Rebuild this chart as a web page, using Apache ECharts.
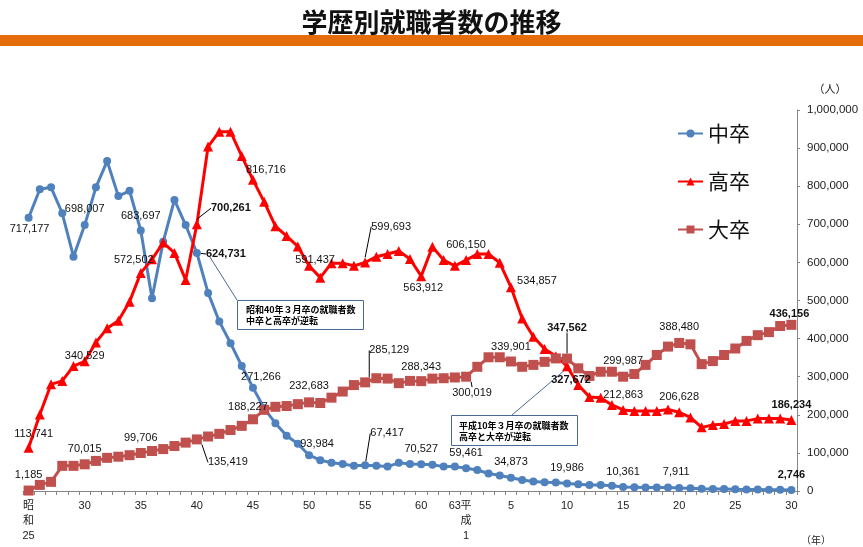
<!DOCTYPE html>
<html><head><meta charset="utf-8">
<script src="https://cdn.jsdelivr.net/npm/echarts@6/dist/echarts.min.js"></script>
<style>html,body{margin:0;padding:0;background:#fff}#c{width:863px;height:547px}</style>
</head><body><div id="c"></div>
<script>
// Years 昭和25 (1950) .. 平成30 (2018)
const categories = [];
for (let y = 25; y <= 63; y++) categories.push('昭和' + y);
for (let y = 1; y <= 30; y++) categories.push('平成' + y);

const tickLabels = {
  '昭和25': '昭\n和\n25', '昭和30': '30', '昭和35': '35', '昭和40': '40', '昭和45': '45',
  '昭和50': '50', '昭和55': '55', '昭和60': '60', '昭和63': '63', '平成1': '平\n成\n1',
  '平成5': '5', '平成10': '10', '平成15': '15', '平成20': '20', '平成25': '25', '平成30': '30'
};

const chusotsu = [717177,792000,797000,729000,615000,698007,797000,866000,774000,788000,
  683697,506000,654000,764000,698000,624731,520000,445000,388000,328000,
  271266,217000,178000,145000,124000,93984,81000,74000,71000,66000,
  67417,66000,64000,74000,71000,70527,69000,64000,64000,59461,
  55000,46000,41000,34873,29000,25000,23000,22000,19986,17500,
  16000,15500,14000,10361,10000,9000,9000,9000,7911,7000,
  6000,5500,5000,4500,4200,3900,3500,3100,2746];

const kousotsu = [113741,201000,280000,289000,328000,340529,390000,427000,447000,497000,
  572502,608000,652000,625000,554000,700261,904000,943000,943000,879000,
  816716,759000,695000,669000,642000,591437,560000,598000,598000,591000,
  599693,615000,622000,630000,609000,563912,641000,606000,591000,606150,
  622000,622000,599000,534857,453000,405000,373000,354000,327672,278000,
  247000,245000,226000,212863,210000,210000,210000,214000,206628,193000,
  167000,173000,176000,184000,184000,190000,190000,190000,186234];

const daisotsu = [1185,16000,24000,66000,66000,70015,79000,87000,90000,94000,
  99706,105000,110000,118000,127000,135419,143000,150000,160000,171000,
  188227,213000,221000,223000,228000,232683,231000,245000,261000,278000,
  285129,296000,295000,283000,289000,288343,295000,296000,298000,300019,
  326000,351000,351000,339901,326000,331000,339000,348000,347562,322000,
  302000,313000,313000,299987,307000,331000,357000,379000,388480,385000,
  333000,341000,357000,374000,394000,409000,417000,433000,436156];

const yTicks = [0,100000,200000,300000,400000,500000,600000,700000,800000,900000,1000000];

// label annotations: [dataIndex, dx, dy, bold, leader]
const chuLabels = [[0,1,11],[5,0,-16],[10,0,-15],[15,29,1,1,1],[20,8,-11],[25,8,-11],[30,22,-32,0,1],
  [35,0,-15],[39,0,-15],[43,0,-16],[48,0,-15],[53,0,-15],[58,-3,-16],[68,0,-15,1]];
const kouLabels = [[0,5,-14],[5,0,-5],[10,-7,-13],[15,34,-16,1,1],[20,13,-10],[25,6,-6],[30,26,-36,0,1],
  [35,2,12],[39,0,-15],[43,26,-6],[48,4,14,1],[53,0,-15],[58,0,-15],[68,0,-15,1]];
const daiLabels = [[0,0,-16],[5,0,-15],[10,0,-15],[15,31,23,0,1],[20,-5,-12],[25,0,-16],[30,24,-32,0,1],
  [35,0,-14],[39,6,16,0,1],[43,0,-15],[48,0,-31,1,1],[53,0,-16],[58,0,-16],[68,-2,-11,1]];

const fmt = v => v.toLocaleString('en-US');

function buildData(vals, labels) {
  const map = {};
  labels.forEach(l => map[l[0]] = l);
  return vals.map((v, i) => {
    const l = map[i];
    if (!l) return v;
    return {
      value: v,
      label: { show: true, formatter: fmt(v), fontWeight: l[3] ? 'bold' : 'normal' },
      labelLine: { show: !!l[4], lineStyle: { color: '#000', width: 1 } }
    };
  });
}
function layoutFn(labels) {
  const map = {};
  labels.forEach(l => map[l[0]] = l);
  return function (p) {
    const l = map[p.dataIndex];
    if (!l) return {};
    return { dx: l[1], dy: l[2] };
  };
}

const labelBase = {
  position: 'inside', align: 'center', verticalAlign: 'middle',
  color: '#111', fontSize: 11, fontFamily: 'Liberation Sans, Arial, sans-serif'
};

function makeSeries(name, vals, labels, color, symbol, size) {
  return {
    name, type: 'line', data: buildData(vals, labels),
    symbol, symbolSize: size, showAllSymbol: true,
    lineStyle: { color, width: 3 }, itemStyle: { color },
    label: Object.assign({ show: false }, labelBase),
    labelLayout: layoutFn(labels),
    emphasis: { disabled: true }, animation: false
  };
}

const chart = echarts.init(document.getElementById('c'));
chart.setOption({
  animation: false,
  title: {
    text: '学歴別就職者数の推移', left: 'center', top: 4,
    textStyle: { fontSize: 26, fontWeight: 'bold', color: '#111', fontFamily: 'Noto Sans CJK JP' }
  },
  legend: {
    orient: 'vertical', left: 672, top: 118, itemGap: 27, itemWidth: 25, itemHeight: 10,
    textStyle: { fontSize: 21, color: '#111', fontFamily: 'Noto Sans CJK JP' },
    data: ['中卒', '高卒', '大卒']
  },
  grid: { left: 23, right: 66, top: 110, bottom: 56, outerBoundsMode: 'none' },
  xAxis: {
    type: 'category', data: categories, boundaryGap: true,
    axisLine: { lineStyle: { color: '#868686' } },
    axisTick: { show: true, interval: 0, length: 4, lineStyle: { color: '#868686' } },
    axisLabel: {
      interval: 0, margin: 7, color: '#222', fontSize: 11, lineHeight: 15,
      fontFamily: 'Liberation Sans, Noto Sans CJK JP, sans-serif',
      formatter: v => tickLabels[v] || ''
    },
    splitLine: { show: false }
  },
  yAxis: {
    type: 'value', position: 'right', min: yTicks[0], max: yTicks[yTicks.length - 1],
    interval: yTicks[1] - yTicks[0],
    axisLine: { show: true, lineStyle: { color: '#868686' } },
    axisTick: { show: true, length: 3, lineStyle: { color: '#868686' } },
    axisLabel: { margin: 10, color: '#222', fontSize: 11.5, fontFamily: 'Liberation Sans, Arial, sans-serif', formatter: v => fmt(v) },
    splitLine: { show: false }
  },
  series: [
    makeSeries('中卒', chusotsu, chuLabels, '#4F81BD', 'circle', 8),
    makeSeries('高卒', kousotsu, kouLabels, '#FF0000', 'triangle', 10),
    makeSeries('大卒', daisotsu, daiLabels, '#C0504D', 'rect', 10)
  ]
});

// annotations
const p1 = chart.convertToPixel({ gridIndex: 0 }, [15, chusotsu[15]]);
const p2 = chart.convertToPixel({ gridIndex: 0 }, [48, kousotsu[48]]);
const boxText = { fontSize: 9, fontWeight: 'bold', fill: '#000', fontFamily: 'Noto Sans CJK JP', lineHeight: 11 };
chart.setOption({
  graphic: [
    { type: 'rect', shape: { x: 0, y: 35, width: 863, height: 11 }, style: { fill: '#E46C0A' }, silent: true },
    { type: 'text', style: Object.assign({ text: '（人）', x: 830, y: 89, align: 'center', verticalAlign: 'middle' }, { fontSize: 11, fill: '#222', fontFamily: 'Noto Sans CJK JP' }) },
    { type: 'text', style: Object.assign({ text: '（年）', x: 816, y: 540, align: 'center', verticalAlign: 'middle' }, { fontSize: 10, fill: '#222', fontFamily: 'Noto Sans CJK JP' }) },
    { type: 'line', shape: { x1: p1[0] + 13, y1: p1[1] + 4, x2: 237, y2: 300 }, style: { stroke: '#4A6A96', lineWidth: 1 } },
    { type: 'rect', shape: { x: 237.5, y: 300.5, width: 126, height: 29 }, style: { fill: '#fff', stroke: '#4A6A96', lineWidth: 1 } },
    { type: 'text', style: Object.assign({ text: '昭和40年３月卒の就職者数\n中卒と高卒が逆転', x: 246, y: 304 }, boxText) },
    { type: 'line', shape: { x1: p2[0], y1: p2[1] + 2, x2: 512, y2: 415 }, style: { stroke: '#4A6A96', lineWidth: 1 } },
    { type: 'rect', shape: { x: 451.5, y: 415.5, width: 126, height: 30 }, style: { fill: '#fff', stroke: '#4A6A96', lineWidth: 1 } },
    { type: 'text', style: Object.assign({ text: '平成10年３月卒の就職者数\n高卒と大卒が逆転', x: 459, y: 420 }, boxText) }
  ]
});
</script>
</body></html>
